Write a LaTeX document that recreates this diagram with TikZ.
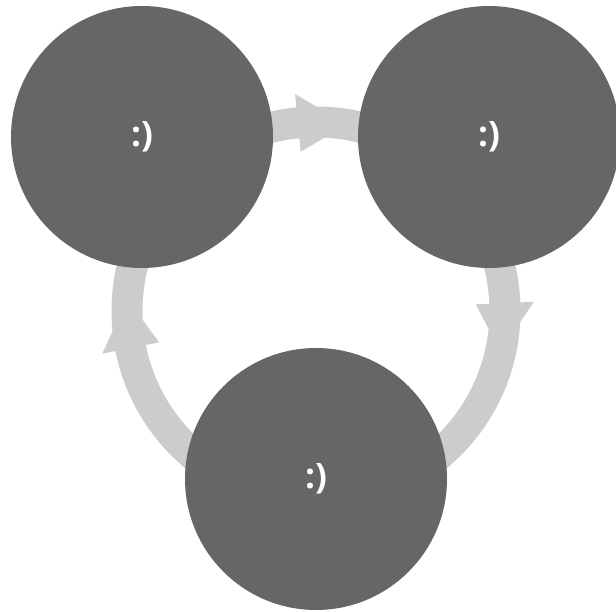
\documentclass[tikz,border=0pt]{standalone}
\usepackage{fontspec}
\setsansfont{Open Sans}
\definecolor{nodegray}{HTML}{666666}
\definecolor{ringgray}{HTML}{CCCCCC}
\begin{document}
\begin{tikzpicture}[x=1pt,y=-1pt,
  bubble/.style={circle,fill=nodegray,minimum size=262pt,inner sep=0pt,
    text=white,font=\sffamily\bfseries\fontsize{35}{40}\selectfont},
  ringarrow/.style={fill=ringgray,draw=none}]
\useasboundingbox (0,0) rectangle (616,612);
\begin{scope}
\clip (0,0) rectangle (616,612);
\coordinate (ctr) at (316,311);
% ring
\draw[ringgray,line width=31pt] (ctr) circle[radius=189];
% arrow heads (clockwise on screen)
\begin{scope}[shift={(ctr)},y=1pt]
\fill[ringarrow] (95.5:218) -- (95.5:160) -- (80.6:189) -- cycle;
\fill[ringarrow] (191.3:218) -- (191.3:160) -- (176.4:189) -- cycle;
\fill[ringarrow] (2.4:218) -- (2.4:160) -- (-12.5:189) -- cycle;
\end{scope}
\node[bubble] (a) at (142,137) {\raisebox{-3pt}{:)}};
\node[bubble] (b) at (489,137) {\raisebox{-3pt}{:)}};
\node[bubble] (c) at (316,479) {\raisebox{-3pt}{:)}};
\end{scope}
\end{tikzpicture}
\end{document}
